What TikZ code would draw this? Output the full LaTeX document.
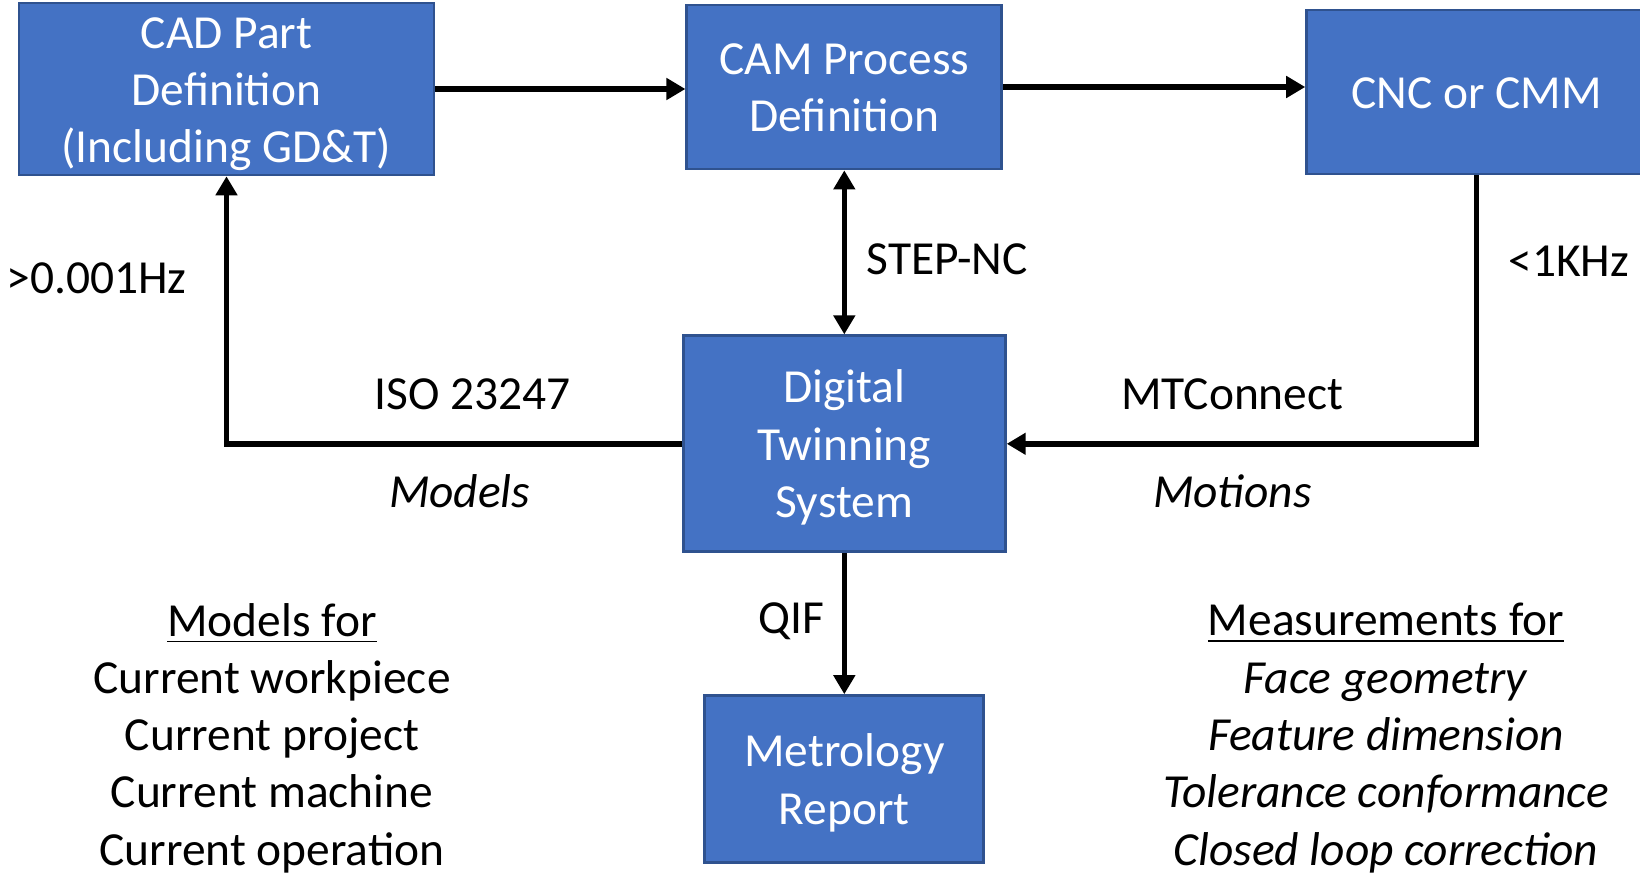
\documentclass[tikz,border=0pt]{standalone}
\usepackage{fontspec}
\setmainfont{Carlito}
\usepackage{tikz}
\usetikzlibrary{arrows.meta, positioning, calc}
\definecolor{boxblue}{HTML}{4472C4}
\definecolor{boxedge}{HTML}{2F528F}
% struts so that box text sits like the slide text
\newcommand{\topstr}{\rule{0pt}{12.8pt}}
\newcommand{\botstr}{\rule[-3.5pt]{0pt}{3.5pt}}
\tikzset{%
	procbox/.style={draw=boxedge, line width=0.8pt, fill=boxblue, text=white,%
		align=center, inner sep=0mm, font=\fontsize{13.5}{16.3}\selectfont},
	lbl/.style={inner sep=0mm, font=\fontsize{13.5}{16.3}\selectfont},
	flow/.style={->, line width=1.6pt},
	link/.style={->, line width=1.3pt},
	twoway/.style={<->, line width=1.3pt}
}

\begin{document}
\begin{tikzpicture}[>={Triangle[length=1.9mm, width=2.1mm]}]
	\useasboundingbox (0,0) rectangle (16.4,-8.73);
	\node[procbox, minimum width=41.5mm, minimum height=17mm] (cad) at (2.265,-0.89) {\topstr CAD Part\\Definition\\(Including GD\&T)\botstr};
	\node[procbox, minimum width=31.5mm, minimum height=16.4mm, yshift=0.2mm] (cam) [right=2.5 of cad] {\topstr CAM Process\\Definition\botstr};
	\node[procbox, minimum width=34mm, minimum height=16.4mm, yshift=-0.5mm] (cnc) [right=3.02 of cam] {\topstr CNC or CMM\botstr};
	\node[procbox, minimum width=32.2mm, minimum height=21.6mm] (dts) [below=1.64 of cam] {\topstr Digital\\Twinning\\System\botstr};
	\node[procbox, minimum width=27.9mm, minimum height=16.7mm] (met) [below=1.41 of dts] {\topstr Metrology\\Report\botstr};
	\node[lbl, align=center] (models) at (2.72,-7.38) {\underline{Models for}\\Current workpiece\\Current project\\Current machine\\Current operation};
	\node[lbl, align=center] (meas) at (13.86,-7.38) {\underline{Measurements for}\\\textit{Face geometry}\\\textit{Feature dimension}\\\textit{Tolerance conformance}\\\textit{Closed loop correction}};
	\draw [flow] (cad.east) -- (cad.east -| cam.west);
	\draw [flow] (cam.east) -- (cam.east -| cnc.west);
	\draw [twoway] (cam) to node[lbl, pos=.54, right=2mm] {STEP-NC} (dts);
	\draw [link] (dts) to node[lbl, pos=.48, left=1.8mm] {QIF} (met);
	\draw [flow] (dts.west) -| node[lbl, pos=.23, yshift=5mm] {ISO 23247} node[lbl, pos=.244, yshift=-4.7mm] {\itshape Models} node[lbl, pos=.81, left=3.7mm] {>0.001Hz} (cad.south);
	\draw [flow] (cnc.south) |- node[lbl, pos=.16, right=2.9mm] {<1KHz} node[lbl, pos=.76, yshift=5mm] {MTConnect} node[lbl, pos=.76, yshift=-4.7mm] {\itshape Motions} (dts.east);
\end{tikzpicture}
\end{document}
